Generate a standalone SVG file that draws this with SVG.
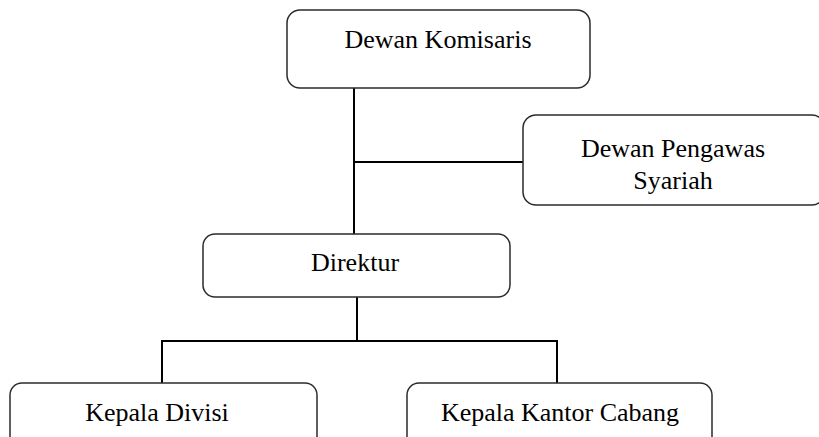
<svg xmlns="http://www.w3.org/2000/svg" width="819" height="437" viewBox="0 0 819 437">
  <style>
    .box { fill: #ffffff; stroke: #2b2b2b; stroke-width: 1.5; }
    .lbl { font-family: 'Liberation Serif', 'DejaVu Serif', serif; font-size: 26px; fill: #000000; text-anchor: middle; }
    .wire { fill: none; stroke: #000000; stroke-width: 2; }
  </style>
  <rect width="819" height="437" fill="#ffffff"/>

  <g id="connectors">
    <path class="wire" d="M354,88 V234"/>
    <path class="wire" d="M354,162 H523"/>
    <path class="wire" d="M357,297 V341"/>
    <path class="wire" d="M161,341 H558"/>
    <path class="wire" d="M162,340 V383"/>
    <path class="wire" d="M557,340 V383"/>
  </g>

  <g id="dewan-komisaris">
    <rect class="box" x="287" y="10" width="303" height="78" rx="13"/>
    <text class="lbl" x="438" y="48">Dewan Komisaris</text>
  </g>

  <g id="dewan-pengawas-syariah">
    <rect class="box" x="523" y="115" width="302" height="90" rx="13"/>
    <text class="lbl" x="673" y="157">Dewan Pengawas</text>
    <text class="lbl" x="673" y="189">Syariah</text>
  </g>

  <g id="direktur">
    <rect class="box" x="203" y="234" width="307" height="63" rx="12"/>
    <text class="lbl" x="355" y="271">Direktur</text>
  </g>

  <g id="kepala-divisi">
    <rect class="box" x="10" y="383" width="307" height="80" rx="12"/>
    <text class="lbl" x="157" y="421">Kepala Divisi</text>
  </g>

  <g id="kepala-kantor-cabang">
    <rect class="box" x="407" y="383" width="305" height="80" rx="12"/>
    <text class="lbl" x="560" y="421">Kepala Kantor Cabang</text>
  </g>
</svg>
